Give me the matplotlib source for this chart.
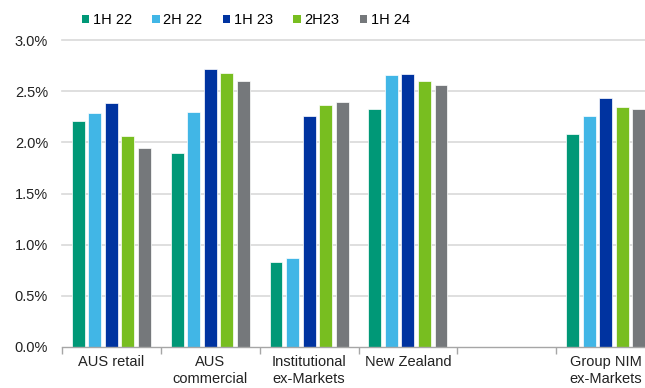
import matplotlib
matplotlib.use("Agg")
import matplotlib.pyplot as plt
from matplotlib.patches import Patch
import numpy as np

plt.rcParams['font.family'] = ['Liberation Sans', 'DejaVu Sans']

categories = ["AUS retail", "AUS\ncommercial", "Institutional\nex-Markets", "New Zealand", "", "Group NIM\nex-Markets"]
series_names = ["1H 22", "2H 22", "1H 23", "2H23", "1H 24"]
colors = ["#009877", "#41b6e6", "#0033a0", "#78be20", "#75787b"]

# Net interest margin (%) per category; None marks the empty slot
nim_1h22 = [2.21, 1.90, 0.83, 2.33, None, 2.08]
nim_2h22 = [2.29, 2.30, 0.87, 2.66, None, 2.26]
nim_1h23 = [2.38, 2.72, 2.26, 2.67, None, 2.43]
nim_2h23 = [2.06, 2.68, 2.36, 2.60, None, 2.35]
nim_1h24 = [1.94, 2.60, 2.39, 2.56, None, 2.33]
series = [nim_1h22, nim_2h22, nim_1h23, nim_2h23, nim_1h24]

fig = plt.figure(figsize=(6.45, 3.88), dpi=100)
ax = fig.add_axes([62 / 645, 41 / 388, 593 / 645, 307 / 388])

x = np.arange(len(categories))
pitch = 0.167
width = 0.13
for i, (vals, col) in enumerate(zip(series, colors)):
    xs = [xi + (i - 2) * pitch for xi, v in zip(x, vals) if v is not None]
    ys = [v for v in vals if v is not None]
    ax.bar(xs, ys, width=width, color=col, edgecolor="white", linewidth=0.5, zorder=3)

ax.set_xlim(-0.5, len(categories) - 0.5)
ax.set_ylim(0, 3.0)
yt = np.arange(0, 3.01, 0.5)
ax.set_yticks(yt)
ax.set_yticklabels([f"{v:.1f}%" for v in yt], fontsize=10.5, color="#222222")
for v in yt[1:]:
    ax.axhline(v, color="#d9d9d9", linewidth=1.2, zorder=1, clip_on=False)

ax.set_xticks(x)
ax.set_xticklabels(categories, fontsize=10.5, color="#222222", linespacing=1.25)
ax.set_xticks(np.arange(-0.5, len(categories), 1.0), minor=True)
ax.tick_params(axis="x", which="major", length=0, pad=6)
ax.tick_params(axis="x", which="minor", length=5, width=1, color="#a6a6a6", direction="out")
ax.tick_params(axis="y", length=0, pad=10)

for s in ["top", "right", "left"]:
    ax.spines[s].set_visible(False)
ax.spines["bottom"].set_color("#a6a6a6")
ax.spines["bottom"].set_linewidth(1)
ax.spines["bottom"].set_zorder(4)

handles = [Patch(facecolor=c, edgecolor="none") for c in colors]
fig.legend(handles, series_names, loc="center left", bbox_to_anchor=(82 / 645, 1 - 20 / 388),
           ncol=5, frameon=False, fontsize=10.5, handlelength=0.5, handleheight=0.5,
           handletextpad=0.25, columnspacing=1.4, borderaxespad=0, borderpad=0)

fig.savefig("out.png", dpi=100)
